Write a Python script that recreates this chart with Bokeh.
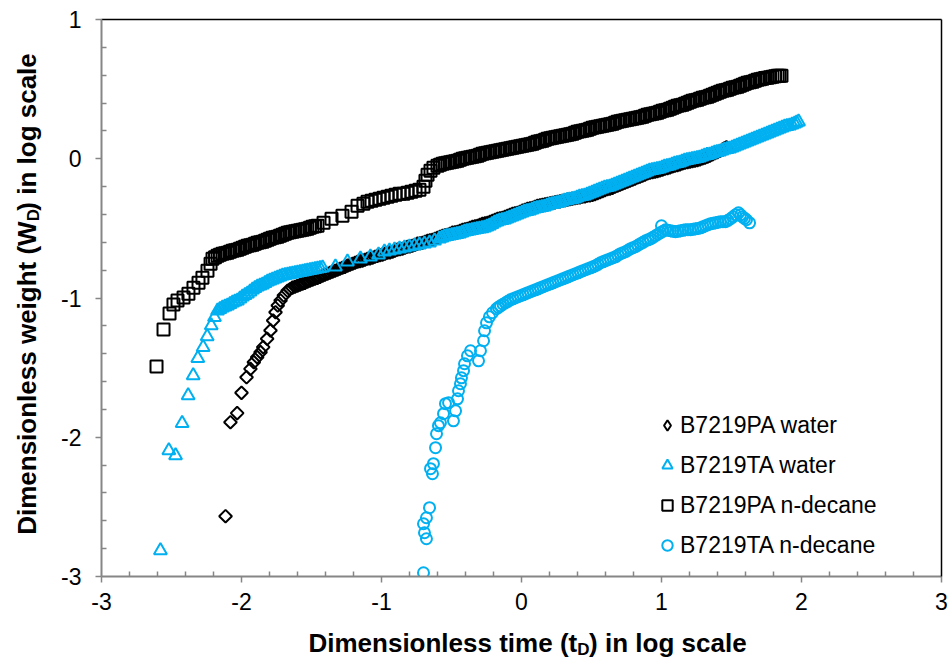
import math
from bokeh.plotting import figure
from bokeh.layouts import row, column
from bokeh.models import (ColumnDataSource, Range1d, FixedTicker, LinearAxis, Label,
                          Legend, LegendItem)
from bokeh.embed import file_html
from bokeh.resources import INLINE

# ---------------- data (log10 tD, log10 WD) ----------------
x_ticks = [-3, -2, -1, 0, 1, 2, 3]
x_tick_labels = ["-3", "-2", "-1", "0", "1", "2", "3"]
y_ticks = [-3, -2, -1, 0, 1]
y_tick_labels = ["-3", "-2", "-1", "0", "1"]

series_names = ["B7219PA water", "B7219TA water", "B7219PA n-decane", "B7219TA n-decane"]
x_title = ["Dimensionless time (t", "D", ") in log scale"]
y_title = ["Dimensionless weight (W", "D", ") in log scale"]

pa_water_x = [-2.114, -2.079, -2.031, -2.000, -1.964, -1.936, -1.912, -1.888, -1.864, -1.845,
              -1.817, -1.793, -1.774, -1.757, -1.741, -1.721, -1.698,
              -1.671, -1.654, -1.636, -1.618, -1.600, -1.582, -1.564, -1.547, -1.529, -1.511,
              -1.493, -1.475, -1.457, -1.439, -1.421, -1.404, -1.386, -1.368, -1.350, -1.332,
              -1.314, -1.297, -1.279, -1.261, -1.243, -1.225, -1.207, -1.189, -1.171, -1.154,
              -1.136, -1.118, -1.100, -1.082, -1.064, -1.047, -1.029, -1.011, -0.993, -0.975,
              -0.957, -0.939, -0.921, -0.904, -0.886, -0.868, -0.850, -0.832, -0.814, -0.797,
              -0.779, -0.761, -0.743, -0.725, -0.707, -0.689, -0.671, -0.654, -0.636, -0.618,
              -0.600, -0.582, -0.564, -0.547, -0.529, -0.511, -0.493, -0.475, -0.457, -0.439,
              -0.421, -0.404, -0.386, -0.368, -0.350, -0.332, -0.314, -0.297, -0.279, -0.261,
              -0.243, -0.225, -0.207, -0.189, -0.171, -0.154, -0.136, -0.118, -0.100, -0.082,
              -0.064, -0.047, -0.029, -0.011, 0.007, 0.025, 0.043, 0.061, 0.079, 0.096,
              0.114, 0.132, 0.150, 0.168, 0.186, 0.204, 0.221, 0.239, 0.257, 0.275,
              0.293, 0.311, 0.329, 0.346, 0.364, 0.382, 0.400, 0.418, 0.436, 0.454,
              0.471, 0.489, 0.507, 0.525, 0.543, 0.561, 0.579, 0.596, 0.614, 0.632,
              0.650, 0.668, 0.686, 0.704, 0.721, 0.739, 0.757, 0.775, 0.793, 0.811,
              0.829, 0.846, 0.864, 0.882, 0.900, 0.918, 0.936, 0.954, 0.971, 0.989,
              1.007, 1.025, 1.043, 1.061, 1.079, 1.096, 1.114, 1.132, 1.150, 1.168,
              1.186, 1.204, 1.221, 1.239, 1.257, 1.275, 1.293, 1.311, 1.329, 1.346,
              1.364, 1.382, 1.400, 1.418, 1.436, 1.450, 1.464]
pa_water_y = [-2.567, -1.892, -1.827, -1.681, -1.569, -1.509, -1.461, -1.425, -1.389, -1.353,
              -1.293, -1.233, -1.162, -1.102, -1.054, -1.018, -0.982,
              -0.948, -0.937, -0.926, -0.919, -0.912, -0.905, -0.898, -0.891, -0.883, -0.876,
              -0.869, -0.862, -0.855, -0.848, -0.840, -0.833, -0.826, -0.819, -0.811, -0.804,
              -0.797, -0.790, -0.783, -0.776, -0.768, -0.761, -0.754, -0.747, -0.740, -0.736,
              -0.732, -0.725, -0.718, -0.715, -0.711, -0.704, -0.697, -0.693, -0.689, -0.682,
              -0.675, -0.672, -0.668, -0.661, -0.653, -0.650, -0.646, -0.639, -0.632, -0.629,
              -0.625, -0.618, -0.610, -0.607, -0.603, -0.596, -0.589, -0.586, -0.582, -0.575,
              -0.567, -0.560, -0.553, -0.550, -0.546, -0.539, -0.531, -0.528, -0.524, -0.517,
              -0.510, -0.507, -0.503, -0.496, -0.488, -0.485, -0.481, -0.474, -0.467, -0.464,
              -0.460, -0.453, -0.445, -0.438, -0.431, -0.428, -0.424, -0.417, -0.409, -0.402,
              -0.395, -0.392, -0.388, -0.381, -0.373, -0.366, -0.359, -0.356, -0.352, -0.345,
              -0.338, -0.334, -0.330, -0.327, -0.323, -0.320, -0.316, -0.313, -0.309, -0.306,
              -0.302, -0.298, -0.294, -0.291, -0.287, -0.284, -0.280, -0.277, -0.273, -0.270,
              -0.266, -0.263, -0.259, -0.254, -0.247, -0.240, -0.232, -0.225, -0.219, -0.215,
              -0.209, -0.201, -0.194, -0.187, -0.179, -0.172, -0.165, -0.157, -0.150, -0.143,
              -0.135, -0.129, -0.121, -0.114, -0.106, -0.100, -0.097, -0.093, -0.090, -0.084,
              -0.079, -0.071, -0.068, -0.063, -0.056, -0.050, -0.047, -0.041, -0.034, -0.028,
              -0.025, -0.021, -0.018, -0.014, -0.010, -0.005, 0.002, 0.008, 0.014, 0.022,
              0.031, 0.040, 0.048, 0.056, 0.066, 0.075, 0.082]

ta_water_x = [-2.579, -2.519, -2.471, -2.424, -2.381, -2.345, -2.312, -2.274, -2.245, -2.216, -2.193,
              -2.171, -2.154, -2.136, -2.118, -2.100, -2.082, -2.064, -2.047, -2.029, -2.011,
              -1.993, -1.975, -1.957, -1.939, -1.921, -1.904, -1.886, -1.868, -1.850, -1.832,
              -1.814, -1.797, -1.779, -1.761, -1.743, -1.725, -1.707, -1.689, -1.671, -1.654,
              -1.636, -1.618, -1.600, -1.582, -1.564, -1.547, -1.529, -1.511, -1.493, -1.475,
              -1.457, -1.439, -1.421,
              -1.329, -1.243, -1.150, -1.079, -1.021,
              -0.979, -0.943, -0.907, -0.871, -0.836, -0.800, -0.764, -0.729, -0.693, -0.657, -0.621,
              -0.586, -0.568, -0.550, -0.532, -0.514, -0.497, -0.479, -0.461, -0.443, -0.425,
              -0.407, -0.389, -0.371, -0.354, -0.336, -0.318, -0.300, -0.282, -0.264, -0.247,
              -0.229, -0.211, -0.193, -0.175, -0.157, -0.139, -0.121, -0.104, -0.086, -0.068,
              -0.050, -0.032, -0.014, 0.004, 0.021, 0.039, 0.057, 0.075, 0.093, 0.111,
              0.129, 0.146, 0.164, 0.182, 0.200, 0.218, 0.236, 0.254, 0.271, 0.289,
              0.307, 0.325, 0.343, 0.361, 0.379, 0.396, 0.414, 0.432, 0.450, 0.468,
              0.486, 0.504, 0.521, 0.539, 0.557, 0.575, 0.593, 0.611, 0.629, 0.646,
              0.664, 0.682, 0.700, 0.718, 0.736, 0.754, 0.771, 0.789, 0.807, 0.825,
              0.843, 0.861, 0.879, 0.896, 0.914, 0.932, 0.950, 0.968, 0.986, 1.004,
              1.021, 1.039, 1.057, 1.075, 1.093, 1.111, 1.129, 1.146, 1.164, 1.182,
              1.200, 1.218, 1.236, 1.254, 1.271, 1.289, 1.307, 1.325, 1.343, 1.361,
              1.379, 1.396, 1.414, 1.432, 1.450, 1.468, 1.486, 1.504, 1.521, 1.539,
              1.557, 1.575, 1.593, 1.611, 1.629, 1.646, 1.664, 1.682, 1.700, 1.718,
              1.736, 1.754, 1.771, 1.789, 1.807, 1.825, 1.843, 1.861, 1.879, 1.896,
              1.914, 1.932, 1.950, 1.964, 1.979]
ta_water_y = [-2.813, -2.095, -2.131, -1.899, -1.700, -1.557, -1.432, -1.353, -1.276, -1.198, -1.138,
              -1.092, -1.081, -1.070, -1.063, -1.056, -1.045, -1.034, -1.027, -1.020, -1.006,
              -0.991, -0.980, -0.969, -0.955, -0.941, -0.930, -0.919, -0.912, -0.905, -0.894,
              -0.883, -0.876, -0.869, -0.862, -0.855, -0.848, -0.840, -0.837, -0.833, -0.830,
              -0.826, -0.823, -0.819, -0.815, -0.811, -0.808, -0.804, -0.801, -0.797, -0.794,
              -0.790, -0.787, -0.783,
              -0.776, -0.740, -0.718, -0.704, -0.689,
              -0.668, -0.661, -0.653, -0.646, -0.639, -0.632, -0.625, -0.618, -0.610, -0.603, -0.589,
              -0.575, -0.568, -0.560, -0.557, -0.553, -0.550, -0.546, -0.543, -0.539, -0.532,
              -0.524, -0.521, -0.517, -0.514, -0.510, -0.507, -0.503, -0.500, -0.496, -0.489,
              -0.481, -0.471, -0.460, -0.453, -0.445, -0.442, -0.438, -0.431, -0.424, -0.417,
              -0.409, -0.402, -0.395, -0.388, -0.381, -0.377, -0.373, -0.366, -0.359, -0.356,
              -0.352, -0.349, -0.345, -0.338, -0.330, -0.327, -0.323, -0.320, -0.316, -0.309,
              -0.302, -0.298, -0.294, -0.291, -0.287, -0.280, -0.273, -0.270, -0.266, -0.259,
              -0.251, -0.244, -0.237, -0.230, -0.223, -0.215, -0.208, -0.205, -0.201, -0.194,
              -0.187, -0.180, -0.172, -0.165, -0.158, -0.151, -0.144, -0.136, -0.129, -0.122,
              -0.115, -0.108, -0.101, -0.093, -0.086, -0.083, -0.079, -0.076, -0.072, -0.065,
              -0.057, -0.054, -0.050, -0.043, -0.036, -0.033, -0.029, -0.022, -0.014, -0.011,
              -0.007, -0.004, 0.000, 0.004, 0.007, 0.015, 0.022, 0.026, 0.029, 0.036,
              0.043, 0.047, 0.050, 0.058, 0.065, 0.069, 0.072, 0.079, 0.086, 0.094,
              0.101, 0.108, 0.115, 0.122, 0.129, 0.137, 0.144, 0.151, 0.158, 0.165,
              0.172, 0.180, 0.187, 0.194, 0.201, 0.208, 0.215, 0.223, 0.230, 0.234,
              0.237, 0.244, 0.251, 0.259, 0.266]

pa_decane_x = [-2.607, -2.557, -2.514, -2.486, -2.457, -2.414, -2.379, -2.343, -2.307, -2.279, -2.243, -2.221,
               -2.207, -2.189, -2.171, -2.154, -2.136, -2.118, -2.100, -2.082, -2.064, -2.047,
               -2.029, -2.011, -1.993, -1.975, -1.957, -1.939, -1.921, -1.904, -1.886, -1.868,
               -1.850, -1.832, -1.814, -1.797, -1.779, -1.761, -1.743, -1.725, -1.707, -1.689,
               -1.671, -1.654, -1.636, -1.618, -1.600, -1.582, -1.564, -1.547, -1.529, -1.511,
               -1.493, -1.475, -1.457,
               -1.414, -1.357, -1.279, -1.214, -1.171, -1.129,
               -1.100, -1.071, -1.043, -1.014, -0.986, -0.957, -0.929, -0.900, -0.871, -0.843,
               -0.814, -0.786, -0.757, -0.729, -0.700, -0.686, -0.671, -0.650, -0.629,
               -0.600, -0.582, -0.564, -0.547, -0.529, -0.511, -0.493, -0.475, -0.457, -0.439,
               -0.421, -0.404, -0.386, -0.368, -0.350, -0.332, -0.314, -0.297, -0.279, -0.261,
               -0.243, -0.225, -0.207, -0.189, -0.171, -0.154, -0.136, -0.118, -0.100, -0.082,
               -0.064, -0.047, -0.029, -0.011, 0.007, 0.025, 0.043, 0.061, 0.079, 0.096,
               0.114, 0.132, 0.150, 0.168, 0.186, 0.204, 0.221, 0.239, 0.257, 0.275,
               0.293, 0.311, 0.329, 0.346, 0.364, 0.382, 0.400, 0.418, 0.436, 0.454,
               0.471, 0.489, 0.507, 0.525, 0.543, 0.561, 0.579, 0.596, 0.614, 0.632,
               0.650, 0.668, 0.686, 0.704, 0.721, 0.739, 0.757, 0.775, 0.793, 0.811,
               0.829, 0.846, 0.864, 0.882, 0.900, 0.918, 0.936, 0.954, 0.971, 0.989,
               1.007, 1.025, 1.043, 1.061, 1.079, 1.096, 1.114, 1.132, 1.150, 1.168,
               1.186, 1.204, 1.221, 1.239, 1.257, 1.275, 1.293, 1.311, 1.329, 1.346,
               1.364, 1.382, 1.400, 1.418, 1.436, 1.454, 1.471, 1.489, 1.507, 1.525,
               1.543, 1.561, 1.579, 1.596, 1.614, 1.632, 1.650, 1.668, 1.686, 1.704,
               1.721, 1.739, 1.757, 1.775, 1.793, 1.811, 1.829, 1.843, 1.857]
pa_decane_y = [-1.492, -1.226, -1.111, -1.047, -1.018, -0.997, -0.969, -0.926, -0.890, -0.854, -0.804, -0.754,
               -0.718, -0.708, -0.697, -0.690, -0.682, -0.679, -0.675, -0.668, -0.661, -0.657,
               -0.653, -0.646, -0.639, -0.632, -0.625, -0.622, -0.618, -0.611, -0.603, -0.600,
               -0.596, -0.589, -0.582, -0.575, -0.567, -0.564, -0.560, -0.553, -0.546, -0.539,
               -0.531, -0.528, -0.524, -0.521, -0.517, -0.514, -0.510, -0.507, -0.503, -0.496,
               -0.488, -0.485, -0.481,
               -0.460, -0.431, -0.409, -0.381, -0.338, -0.323,
               -0.309, -0.302, -0.294, -0.287, -0.280, -0.273, -0.266, -0.259, -0.251, -0.251,
               -0.244, -0.237, -0.230, -0.223, -0.201, -0.158, -0.115, -0.086, -0.065,
               -0.050, -0.043, -0.036, -0.033, -0.029, -0.026, -0.022, -0.018, -0.014, -0.007,
               0.000, 0.004, 0.007, 0.011, 0.014, 0.018, 0.022, 0.029, 0.036, 0.040,
               0.043, 0.047, 0.050, 0.054, 0.057, 0.061, 0.065, 0.068, 0.072, 0.076,
               0.079, 0.083, 0.086, 0.090, 0.093, 0.097, 0.101, 0.104, 0.108, 0.115,
               0.122, 0.126, 0.129, 0.137, 0.144, 0.148, 0.151, 0.155, 0.158, 0.162,
               0.165, 0.169, 0.172, 0.176, 0.180, 0.187, 0.194, 0.198, 0.201, 0.205,
               0.208, 0.216, 0.223, 0.227, 0.230, 0.234, 0.237, 0.241, 0.244, 0.248,
               0.251, 0.259, 0.266, 0.270, 0.273, 0.277, 0.280, 0.284, 0.287, 0.291,
               0.294, 0.298, 0.302, 0.309, 0.316, 0.320, 0.323, 0.327, 0.330, 0.338,
               0.345, 0.349, 0.352, 0.359, 0.366, 0.374, 0.381, 0.385, 0.388, 0.395,
               0.402, 0.410, 0.417, 0.421, 0.424, 0.431, 0.438, 0.442, 0.445, 0.453,
               0.460, 0.467, 0.474, 0.481, 0.488, 0.492, 0.496, 0.503, 0.510, 0.514,
               0.517, 0.524, 0.531, 0.539, 0.546, 0.550, 0.553, 0.560, 0.567, 0.571,
               0.575, 0.579, 0.582, 0.586, 0.589, 0.593, 0.596, 0.596, 0.596]

ta_decane_x = [-0.700, -0.679, -0.693, -0.700, -0.679, -0.657, -0.636, -0.650, -0.629, -0.614,
               -0.607, -0.593, -0.579, -0.557, -0.543, -0.521, -0.486, -0.471, -0.457, -0.450,
               -0.436, -0.429, -0.414, -0.407, -0.386, -0.364, -0.307, -0.293, -0.271,
               -0.264, -0.250, -0.229, -0.207,
               -0.179, -0.165, -0.150, -0.132, -0.114, -0.097, -0.079, -0.061, -0.043, -0.025,
               -0.007, 0.011, 0.029, 0.046, 0.064, 0.082, 0.100, 0.118, 0.136, 0.154,
               0.171, 0.189, 0.207, 0.225, 0.243, 0.261, 0.279, 0.296, 0.314, 0.332,
               0.350, 0.368, 0.386, 0.404, 0.421, 0.439, 0.457, 0.475, 0.493, 0.511,
               0.529, 0.546, 0.564, 0.582, 0.600, 0.618, 0.636, 0.654, 0.671, 0.689,
               0.707, 0.725, 0.743, 0.761, 0.779, 0.796, 0.814, 0.832, 0.850, 0.868,
               0.886, 0.904, 0.921, 0.939, 0.957, 0.975, 0.993, 1.000, 1.011, 1.029,
               1.046, 1.064, 1.082, 1.100, 1.118, 1.136, 1.154, 1.171, 1.189, 1.207,
               1.225, 1.243, 1.261, 1.279, 1.296, 1.314, 1.332, 1.350, 1.368, 1.386,
               1.404, 1.421, 1.439, 1.457, 1.475, 1.493, 1.511, 1.529, 1.550, 1.565,
               1.579, 1.593, 1.607, 1.629]
ta_decane_y = [-2.973, -2.729, -2.686, -2.621, -2.578, -2.506, -2.262, -2.226, -2.190, -2.075,
               -1.975, -1.917, -1.896, -1.831, -1.759, -1.752, -1.882, -1.810, -1.724, -1.666,
               -1.616, -1.573, -1.522, -1.472, -1.415, -1.379, -1.451, -1.379, -1.307,
               -1.235, -1.178, -1.135, -1.106,
               -1.077, -1.067, -1.056, -1.045, -1.034, -1.024, -1.013, -1.006, -0.998, -0.991,
               -0.984, -0.977, -0.969, -0.962, -0.955, -0.948, -0.941, -0.934, -0.926, -0.919,
               -0.912, -0.905, -0.898, -0.891, -0.883, -0.876, -0.869, -0.862, -0.855, -0.848,
               -0.840, -0.833, -0.826, -0.819, -0.811, -0.804, -0.797, -0.790, -0.783, -0.776,
               -0.768, -0.758, -0.747, -0.740, -0.732, -0.725, -0.718, -0.711, -0.704, -0.693,
               -0.682, -0.675, -0.668, -0.657, -0.646, -0.639, -0.632, -0.621, -0.610, -0.600,
               -0.589, -0.582, -0.575, -0.564, -0.553, -0.542, -0.531, -0.481, -0.520, -0.510,
               -0.514, -0.517, -0.521, -0.524, -0.521, -0.517, -0.514, -0.510, -0.510, -0.510,
               -0.507, -0.503, -0.500, -0.496, -0.489, -0.481, -0.474, -0.467, -0.464, -0.460,
               -0.456, -0.452, -0.452, -0.452, -0.442, -0.431, -0.417, -0.402, -0.388, -0.403,
               -0.417, -0.428, -0.438, -0.460]

# ---------------- styling ----------------
BLACK = "#000000"
CYAN = "#00B0F0"
AXIS_GRAY = "#868686"
FONT = "Liberation Sans"
MAIN_H = 622   # main figure height; frame spans y = 19 .. 576

p = figure(width=901, height=MAIN_H, output_backend="svg", toolbar_location=None,
           x_range=Range1d(-3, 3), y_range=Range1d(-3, 1),
           min_border_left=51, min_border_right=10, min_border_top=19,
           min_border_bottom=MAIN_H - 576)
p.grid.visible = False
p.outline_line_color = None
p.background_fill_color = "white"
p.border_fill_color = "white"

minor_x = [round(-3 + 0.2 * i, 1) for i in range(31) if i % 5 != 0]
minor_y = [round(-3 + 0.2 * i, 1) for i in range(21) if i % 5 != 0]
p.xaxis.ticker = FixedTicker(ticks=x_ticks, minor_ticks=minor_x)
p.yaxis.ticker = FixedTicker(ticks=y_ticks, minor_ticks=minor_y)
p.xaxis.major_label_overrides = {t: s for t, s in zip(x_ticks, x_tick_labels)}
p.yaxis.major_label_overrides = {t: s for t, s in zip(y_ticks, y_tick_labels)}

for ax in (p.xaxis[0], p.yaxis[0]):
    ax.axis_line_color = AXIS_GRAY
    ax.axis_line_width = 2
    ax.major_tick_line_color = AXIS_GRAY
    ax.major_tick_line_width = 1.5
    ax.minor_tick_line_color = AXIS_GRAY
    ax.minor_tick_line_width = 1.5
    ax.major_tick_out = 6
    ax.major_tick_in = 0
    ax.minor_tick_in = 5
    ax.minor_tick_out = 0
    ax.major_label_text_font = FONT
    ax.major_label_text_font_size = "23px"
    ax.major_label_text_color = "black"
p.xaxis.major_label_standoff = 10
p.yaxis.major_label_standoff = 14

# black frame lines on top and right
for side in ("above", "right"):
    ax = LinearAxis(ticker=FixedTicker(ticks=[]), major_label_text_font_size="0px",
                    axis_line_color="black", axis_line_width=1.5,
                    major_tick_line_color=None, minor_tick_line_color=None,
                    major_label_standoff=0)
    p.add_layout(ax, side)

src_pa_w = ColumnDataSource(dict(x=pa_water_x, y=pa_water_y))
src_ta_w = ColumnDataSource(dict(x=ta_water_x, y=ta_water_y))
src_pa_d = ColumnDataSource(dict(x=pa_decane_x, y=pa_decane_y))
src_ta_d = ColumnDataSource(dict(x=ta_decane_x, y=ta_decane_y))

r1 = p.scatter("x", "y", source=src_pa_w, marker="square", angle=math.pi / 4, size=9,
               line_color=BLACK, line_width=2, fill_color=None)
r2 = p.scatter("x", "y", source=src_ta_w, marker="triangle", size=13,
               line_color=CYAN, line_width=2, fill_color=None)
r3 = p.scatter("x", "y", source=src_pa_d, marker="square", size=12,
               line_color=BLACK, line_width=2, fill_color=None)
r4 = p.scatter("x", "y", source=src_ta_d, marker="circle", size=11,
               line_color=CYAN, line_width=2, fill_color=None)
# legend swatch for the diamond series (legend swatches ignore marker rotation):
# same data, hidden in the plot, used only by the legend entry
r1_key = p.scatter("x", "y", source=src_pa_w, marker="diamond",
                   line_color=BLACK, line_width=2, fill_color=None)
r1_key.visible = False

legend = Legend(items=[LegendItem(label=series_names[0], renderers=[r1_key]),
                       LegendItem(label=series_names[1], renderers=[r2]),
                       LegendItem(label=series_names[2], renderers=[r3]),
                       LegendItem(label=series_names[3], renderers=[r4])],
                location=(553, 15), orientation="vertical", click_policy="none",
                glyph_width=26, glyph_height=32, label_height=32, label_standoff=0,
                spacing=8, padding=0, margin=0,
                border_line_color=None, background_fill_alpha=0,
                label_text_font=FONT, label_text_font_size="23px", label_text_color="black")
p.add_layout(legend)

# ---------------- axis titles (separate strips, text with subscript D) ----------------
title_kw = dict(text_font=FONT, text_font_style="bold", text_color="black",
                x_units="data", y_units="data", text_baseline="middle")

yt = figure(width=50, height=MAIN_H, output_backend="svg", toolbar_location=None,
            x_range=Range1d(0, 50), y_range=Range1d(0, MAIN_H),
            x_axis_type=None, y_axis_type=None,
            min_border_left=0, min_border_right=0, min_border_top=0, min_border_bottom=0)
yt.grid.visible = False
yt.outline_line_color = None
yt.add_layout(Label(x=26, y=MAIN_H - 225.4, angle=math.pi / 2, text=y_title[0],
                    text_align="right", text_font_size="26px", **title_kw))
yt.add_layout(Label(x=32.5, y=MAIN_H - 225.4, angle=math.pi / 2, text=y_title[1],
                    text_align="left", text_font_size="17px", **title_kw))
yt.add_layout(Label(x=26, y=MAIN_H - 213.5, angle=math.pi / 2, text=y_title[2],
                    text_align="left", text_font_size="26px", **title_kw))

XT_H = 666 - MAIN_H
xt = figure(width=951, height=XT_H, output_backend="svg", toolbar_location=None,
            x_range=Range1d(0, 951), y_range=Range1d(0, XT_H),
            x_axis_type=None, y_axis_type=None,
            min_border_left=0, min_border_right=0, min_border_top=0, min_border_bottom=0)
xt.grid.visible = False
xt.outline_line_color = None
xt.add_layout(Label(x=576.7, y=XT_H - 20, text=x_title[0], text_align="right",
                    text_font_size="26px", **title_kw))
xt.add_layout(Label(x=576.7, y=XT_H - 26.5, text=x_title[1], text_align="left",
                    text_font_size="17px", **title_kw))
xt.add_layout(Label(x=588.6, y=XT_H - 20, text=x_title[2], text_align="left",
                    text_font_size="26px", **title_kw))

layout = column(row(yt, p, spacing=0), xt, spacing=0)
open("out.html", "w").write(file_html(layout, INLINE))
